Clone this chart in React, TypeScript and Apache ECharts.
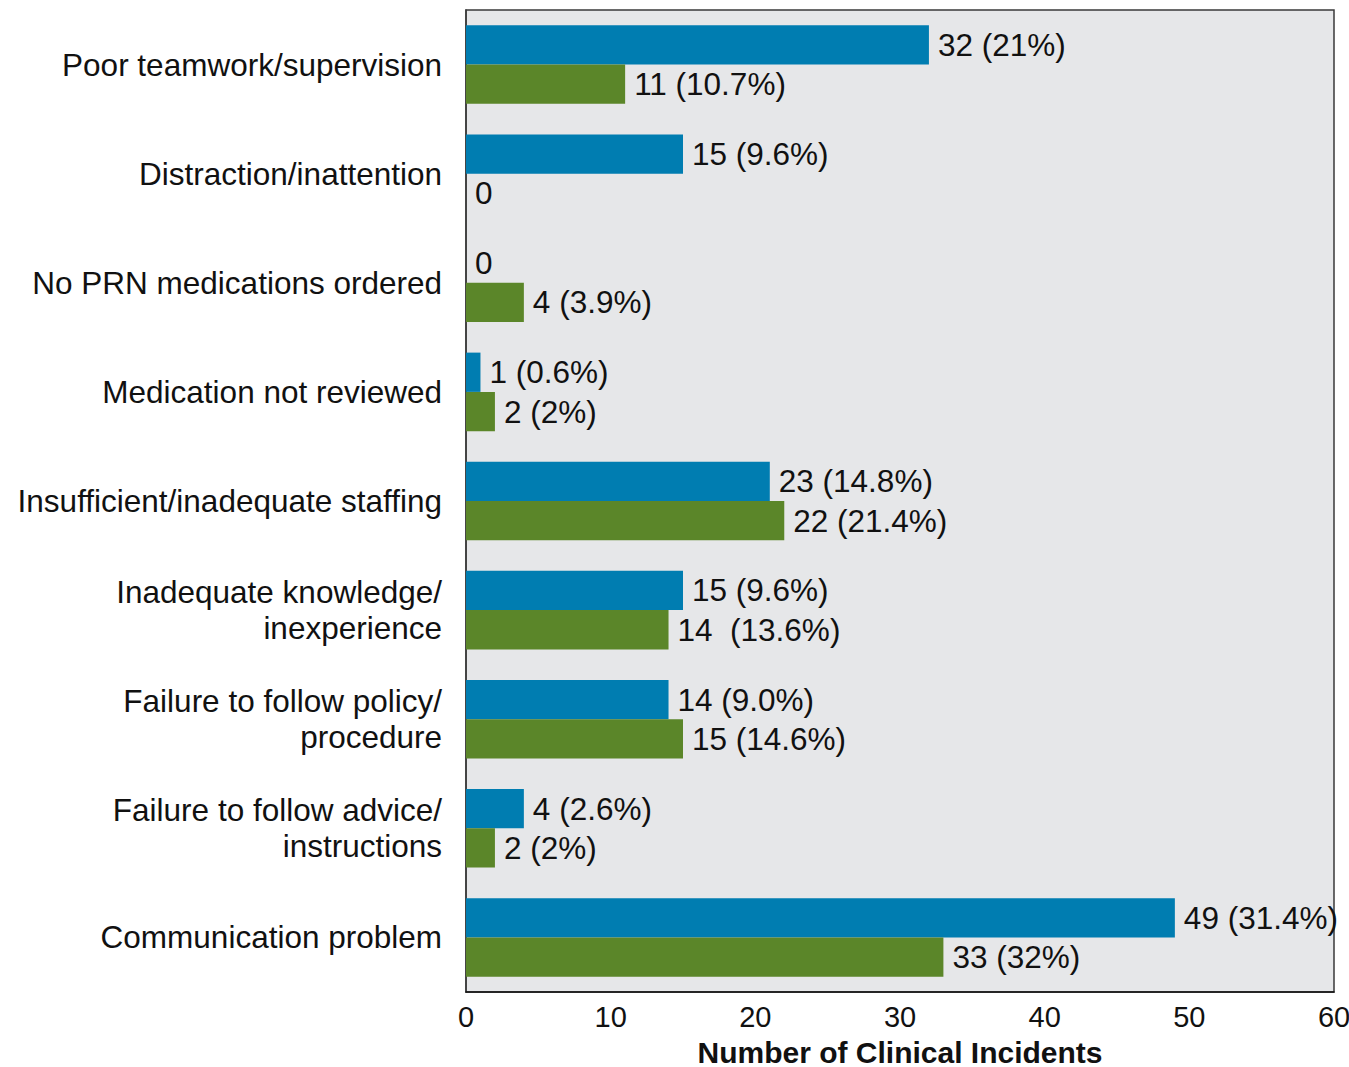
import React, { useEffect, useRef } from "react";
import * as echarts from "echarts";

const categories = [
  "Poor teamwork/supervision",
  "Distraction/inattention",
  "No PRN medications ordered",
  "Medication not reviewed",
  "Insufficient/inadequate staffing",
  "Inadequate knowledge/\ninexperience",
  "Failure to follow policy/\nprocedure",
  "Failure to follow advice/\ninstructions",
  "Communication problem",
];
// bar lengths as drawn in the reference (the staffing blue bar is drawn shorter than its label)
const blueValues = [32, 15, 0, 1, 21, 15, 14, 4, 49];
const blueLabels = ["32 (21%)", "15 (9.6%)", "0", "1 (0.6%)", "23 (14.8%)", "15 (9.6%)", "14 (9.0%)", "4 (2.6%)", "49 (31.4%)"];
const greenValues = [11, 0, 4, 2, 22, 14, 15, 2, 33];
const greenLabels = ["11 (10.7%)", "0", "4 (3.9%)", "2 (2%)", "22 (21.4%)", "14  (13.6%)", "15 (14.6%)", "2 (2%)", "33 (32%)"];
const xTicks = { min: 0, max: 60, interval: 10 };
const xTitle = "Number of Clinical Incidents";

const FONT = "'Liberation Sans', Arial, Helvetica, sans-serif";

export default function App() {
  const ref = useRef<HTMLDivElement>(null);
  useEffect(() => {
    document.body.style.margin = "0";
    const chart = echarts.init(ref.current!, null, { renderer: "svg" });
    const labelStyle = {
      show: true,
      position: "right" as const,
      distance: 9,
      color: "#111",
      fontSize: 31.5,
      fontFamily: FONT,
    };
    chart.setOption({
      animation: false,
      backgroundColor: "#ffffff",
      grid: {
        left: 466,
        right: 15,
        top: 10,
        bottom: 75,
        show: true,
        containLabel: false,
        outerBoundsMode: "none",
        backgroundColor: "#e6e7e9",
        borderColor: "#3a3a3a",
        borderWidth: 1.5,
      },
      xAxis: {
        type: "value",
        min: xTicks.min,
        max: xTicks.max,
        interval: xTicks.interval,
        name: xTitle,
        nameLocation: "middle",
        nameGap: 45,
        nameTextStyle: { fontSize: 30, fontWeight: "bold", color: "#111", fontFamily: FONT },
        axisLine: { show: true, lineStyle: { color: "#111", width: 1.5 } },
        axisTick: { show: false },
        splitLine: { show: false },
        axisLabel: { fontSize: 29, color: "#111", margin: 10, fontFamily: FONT },
      },
      yAxis: {
        type: "category",
        data: categories,
        inverse: true,
        axisLine: { show: true, lineStyle: { color: "#3a3a3a", width: 1.5 } },
        axisTick: { show: false },
        axisLabel: {
          fontSize: 31.5,
          color: "#111",
          margin: 24,
          lineHeight: 36,
          align: "right",
          fontFamily: FONT,
        },
      },
      series: [
        {
          type: "bar",
          data: blueValues,
          itemStyle: { color: "#007db1" },
          barGap: "0%",
          barCategoryGap: "28%",
          label: { ...labelStyle, formatter: (p: any) => blueLabels[p.dataIndex] },
        },
        {
          type: "bar",
          data: greenValues,
          itemStyle: { color: "#5b8629" },
          label: { ...labelStyle, formatter: (p: any) => greenLabels[p.dataIndex] },
        },
      ],
    });
    return () => chart.dispose();
  }, []);
  return <div ref={ref} style={{ width: 1349, height: 1067 }} />;
}
